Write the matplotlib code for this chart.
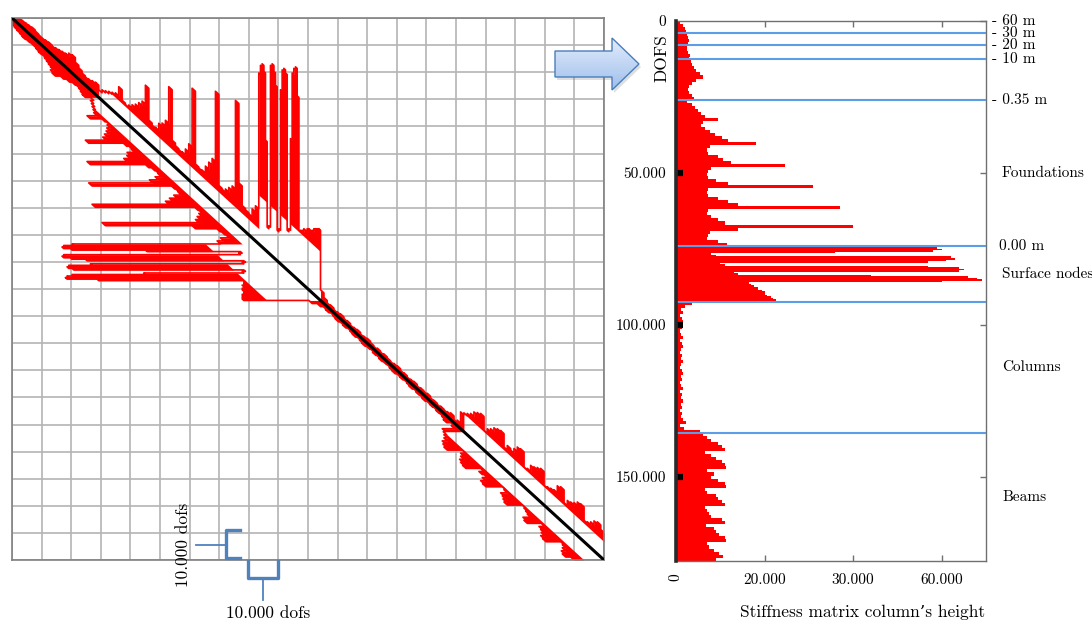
import numpy as np
import matplotlib
matplotlib.use('Agg')
import matplotlib.pyplot as plt
from matplotlib.patches import Polygon
from matplotlib.lines import Line2D
from matplotlib.colors import LinearSegmentedColormap
import matplotlib.transforms as mtransforms

plt.rcParams['font.family'] = ['cmr10', 'DejaVu Serif']
plt.rcParams['axes.unicode_minus'] = False

# ── skyline heights (thousands of dofs), one list per zone of the model ──
top_heights = [0.8, 1.5, 2.0, 2.3, 2.5, 2.7, 3.0, 2.7, 2.5, 2.5, 2.8, 3.1, 2.9,
               3.3, 3.7, 4.1, 4.5, 5.5, 6.0, 4.5, 3.7, 3.0, 2.7, 3.0, 3.5, 4.0]
foundation_heights = [2.5, 3.5, 4.2, 5.0, 5.7, 6.5, 9.5, 6.1, 5.7, 6.5,
                      7.6, 8.8, 10.3, 11.8, 18.0, 7.6, 6.9, 7.2, 9.5, 10.6,
                      12.5, 24.5, 8.0, 7.2, 6.9, 7.2, 9.1, 11.8, 31.0, 7.2,
                      6.9, 7.2, 9.5, 11.8, 14.0, 37.0, 7.2, 6.9, 8.0, 9.5,
                      11.0, 40.0, 14.0, 7.6, 7.2, 6.9, 9.5, 11.5]
surface_heights = [56, 59, 60, 58, 36, 8, 9, 62, 63, 61, 57, 10, 11,
                   57, 64, 65, 64, 13, 14, 44, 66, 68, 69, 60,
                   16.5, 17, 17.5, 18.5, 18.5, 19.5, 20, 20, 20.5, 21.5, 22, 22.5, 23]
column_heights = [3.5, 2.0, 1.2, 1.5, 1.0, 1.3, 1.6, 1.1, 1.4, 0.9,
                  1.2, 1.5, 1.0, 1.3, 1.6, 1.2, 0.9, 1.4, 1.1, 1.5,
                  1.2, 1.0, 1.4, 1.6, 1.1, 1.3, 0.9, 1.2, 1.5, 1.0,
                  1.4, 1.2, 1.6, 1.1, 1.3, 1.0, 1.4, 1.2, 1.6, 2.2,
                  1.0, 1.8, 5.5]
beam_heights = [6.2, 7.0, 8.0, 9.5, 10.3, 11.0, 6.5, 8.0, 9.0, 10.3, 11.0, 11.4,
                7.0, 8.5, 8.0, 9.5, 11.0, 11.4, 6.5, 7.0, 9.0, 9.5, 10.3, 11.0,
                6.5, 7.0, 7.5, 8.0, 10.3, 11.0, 6.8, 8.5, 9.0, 9.8, 11.0, 11.4,
                7.0, 7.5, 8.5, 9.8, 10.5, 9.0]

zone_step = [1000, 1000, 500, 1000, 1000]        # dofs per sample
zone_floor = [0, 5000, 16000, 0, 6000]           # shortest column in the zone
zone_names = [None, 'Foundations', 'Surface nodes', 'Columns', 'Beams']

level_dofs = [3950, 8000, 12500]                 # storeys inside the top zone
level_labels = ['- 30 m', '- 20 m', '- 10 m']
top_label = '- 60 m'
boundary_labels = ['- 0.35 m', '0.00 m']

dof_ticks = [0, 50000, 100000, 150000]
dof_ticklabels = ['0', '50.000', '100.000', '150.000']
height_ticks = [0, 20000, 40000, 60000]
height_ticklabels = ['0', '20.000', '30.000', '60.000']

RED = '#ff0000'
BLUE = '#5b9de6'
W, H = 1092, 624


def fx(px):
    return px / W


def fy(py):
    return 1 - py / H


# ── assemble the profile ─────────────────────────────────────────────
zones = [top_heights, foundation_heights, surface_heights, column_heights, beam_heights]
dof, hgt, stp, flr, starts = [], [], [], [], []
pos = 0
for vals, step, fl in zip(zones, zone_step, zone_floor):
    starts.append(pos)
    dof.append(pos + step * np.arange(len(vals)))
    hgt.append(np.asarray(vals, float) * 1000)
    stp.append(np.full(len(vals), step, float))
    flr.append(np.full(len(vals), fl, float))
    pos += step * len(vals)
N = pos
dof, hgt, stp, flr = map(np.concatenate, (dof, hgt, stp, flr))

# each sample spans [d, d+step); its skyline runs parallel to the diagonal
xs = np.column_stack([dof, dof + stp]).ravel()
hs = np.repeat(hgt, 2)
fs = np.repeat(flr, 2)
sky = xs - hs
inner = xs - np.minimum(fs, hs)

fig = plt.figure(figsize=(W / 100, H / 100), dpi=100)

# ── left: stiffness matrix profile ───────────────────────────────────
ax1 = fig.add_axes([fx(12), fy(560), fx(592), 542 / H])
ax1.set_xlim(0, N)
ax1.set_ylim(N, 0)
grid = np.linspace(0, N, 21)
ax1.set_xticks(grid)
ax1.set_yticks(grid)
ax1.tick_params(length=0, labelbottom=False, labelleft=False)
ax1.grid(True, color='#b4b4b4', lw=1.2)
ax1.set_axisbelow(True)
for s in ax1.spines.values():
    s.set_color('#808080')
    s.set_linewidth(1.2)

ax1.fill_between(xs, sky, inner, color=RED, lw=0, zorder=2)
ax1.fill_betweenx(xs, sky, inner, color=RED, lw=0, zorder=2)
ax1.plot(xs, sky, color=RED, lw=1.2, zorder=2)
ax1.plot(sky, xs, color=RED, lw=1.2, zorder=2)
ax1.plot([0, N], [0, N], color='black', lw=2.2, zorder=3)

# scale brackets under the matrix
BR = '#4f81bd'
for pts, lw in [([(240, 530), (226, 530), (226, 558), (240, 558)], 2.4),
                ([(196, 545), (226, 545)], 1.3),
                ([(248, 561), (248, 578), (278, 578), (278, 561)], 2.4),
                ([(263, 578), (263, 600)], 1.3)]:
    px, py = zip(*pts)
    fig.add_artist(Line2D([fx(p) for p in px], [fy(p) for p in py],
                          color=BR, lw=lw, transform=fig.transFigure))
fig.text(fx(183), fy(545), '10.000 dofs', rotation=90, ha='center', va='center',
         fontsize=12.5)
fig.text(fx(268), fy(613), '10.000 dofs', ha='center', va='center', fontsize=12.5)

# ── arrow between the panels ─────────────────────────────────────────
axa = fig.add_axes([fx(548), fy(97), fx(100), 66 / H])
axa.set_xlim(548, 648)
axa.set_ylim(97, 31)
axa.axis('off')
arrow_pts = [(555, 51), (612, 51), (612, 38), (639, 64), (612, 90), (612, 77), (555, 77)]
shadow = Polygon([(x + 2, y + 3) for x, y in arrow_pts], closed=True,
                 fc='#808080', ec='none', alpha=0.25)
axa.add_patch(shadow)
body = Polygon(arrow_pts, closed=True, fc='none', ec='#4a7ebb', lw=1.0, zorder=3)
axa.add_patch(body)
grad = LinearSegmentedColormap.from_list('arrow', ['#e2ecfb', '#9fbfec'])
img = axa.imshow(np.linspace(0, 1, 64)[:, None], cmap=grad, aspect='auto',
                 extent=(555, 640, 90, 38), zorder=2)
img.set_clip_path(body)

# ── right: column heights ────────────────────────────────────────────
ax2 = fig.add_axes([fx(676), fy(560.7), fx(310), 540 / H])
ax2.barh(dof, hgt, height=stp, align='edge', color=RED, lw=0)
ax2.set_xlim(0, 70000)
ax2.set_ylim(N, 0)

for y in level_dofs + starts[1:]:
    ax2.axhline(y, color=BLUE, lw=1.5, zorder=3)

for s in ax2.spines.values():
    s.set_color('#707070')
    s.set_linewidth(1.0)
ax2.spines['left'].set_color('#2a2a2a')
ax2.spines['left'].set_linewidth(2.6)
ax2.spines['left'].set_zorder(4)

ax2.set_yticks(dof_ticks)
ax2.set_yticklabels(dof_ticklabels, fontsize=11)
ax2.tick_params(axis='y', direction='in', length=5, width=4.5, color='black',
                left=True, right=True, pad=7)
ax2.set_xticks(height_ticks)
ax2.set_xticklabels(height_ticklabels, fontsize=11)
ax2.tick_params(axis='x', direction='in', length=4, width=1, color='#707070',
                top=True, bottom=True, pad=9)
ax2.get_xticklabels()[0].set_rotation(90)
yticks = ax2.yaxis.get_major_ticks()
yticks[0].tick1line.set_visible(False)
for t in yticks:
    t.tick2line.set_markeredgecolor('#707070')
    t.tick2line.set_markeredgewidth(1)
    t.tick2line.set_markersize(4)

fig.text(fx(662), fy(58), 'DOFS', rotation=90, ha='center', va='center', fontsize=12.5)
fig.text(fx(863), fy(612), 'Stiffness matrix column\u2019s height', ha='center',
         va='center', fontsize=12.5)

# depth levels and zone names on the right
side = mtransforms.blended_transform_factory(fig.transFigure, ax2.transData)
ax2.text(fx(992), 0, top_label, transform=side, ha='left', va='center', fontsize=11)
for y, lab in zip(level_dofs, level_labels):
    ax2.text(fx(992), y, lab, transform=side, ha='left', va='center', fontsize=11)
ax2.text(fx(992), starts[1], boundary_labels[0], transform=side, ha='left',
         va='center', fontsize=11)
ax2.text(fx(999), starts[2], boundary_labels[1], transform=side, ha='left',
         va='center', fontsize=11)
ends = starts[1:] + [N]
for name, a, b in zip(zone_names, starts, ends):
    if name:
        ax2.text(fx(1002), (a + b) / 2, name, transform=side, ha='left',
                 va='center', fontsize=11)

fig.savefig('out.png', dpi=100)
